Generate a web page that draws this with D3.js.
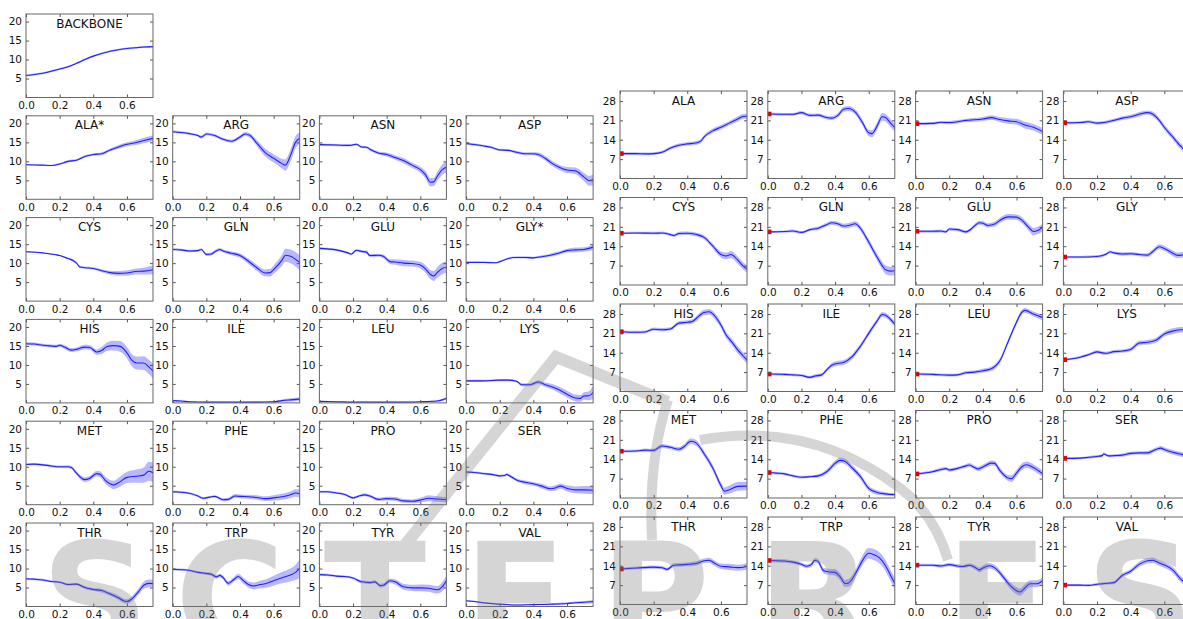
<!DOCTYPE html>
<html>
<head>
<meta charset="utf-8">
<script src="https://cdn.jsdelivr.net/npm/d3@7"></script>
<style>
  body { margin: 0; background: #fff; }
  svg { display: block; }
  text { font-family: "DejaVu Sans", sans-serif; fill: #111; }
</style>
</head>
<body>
<svg id="chart" width="1183" height="619"></svg>
<script>
// every series point: [x, mean, half width of the band]
const L_BACKBONE = [[0,5.8,.25],[0.1,6.4,.25],[0.2,7.5,.25],[0.25,8.1,.25],[0.3,9.0,.25],[0.35,10.0,.25],[0.4,10.9,.25],[0.45,11.6,.25],[0.5,12.2,.25],[0.55,12.6,.25],[0.6,12.9,.25],[0.65,13.1,.25],[0.7,13.3,.25],[0.76,13.4,.25]];
const L_ALA = [[0,9.1,.2],[0.1,9.0,.2],[0.15,8.9,.2],[0.2,9.3,.25],[0.25,10.0,.3],[0.3,10.3,.3],[0.35,11.3,.3],[0.4,11.8,.3],[0.45,12.0,.4],[0.5,13.0,.4],[0.55,13.8,.5],[0.6,14.5,.5],[0.65,14.9,.6],[0.7,15.5,.7],[0.76,16.1,.8]];
const L_ARG = [[0,17.8,.3],[0.05,17.6,.3],[0.1,17.3,.3],[0.15,16.8,.3],[0.17,16.4,.4],[0.2,17.2,.4],[0.25,16.8,.4],[0.3,15.8,.4],[0.35,15.3,.4],[0.4,16.4,.5],[0.43,17.2,.5],[0.46,16.8,.6],[0.5,14.8,.8],[0.55,12.3,1.0],[0.6,10.8,1.1],[0.65,9.4,1.3],[0.67,9.0,1.5],[0.7,11.5,1.6],[0.73,15.0,1.6],[0.76,16.2,1.5]];
const L_ASN = [[0,14.4,.3],[0.1,14.3,.3],[0.18,14.2,.3],[0.22,14.5,.3],[0.25,13.8,.3],[0.28,13.7,.3],[0.3,13.2,.4],[0.35,12.2,.4],[0.4,11.8,.5],[0.45,11.0,.6],[0.5,10.2,.7],[0.55,9.0,.7],[0.6,7.8,.8],[0.63,6.5,1.0],[0.66,4.5,1.1],[0.68,4.6,1.1],[0.7,6.0,1.2],[0.73,7.8,1.4],[0.76,8.5,1.5]];
const L_ASP = [[0,14.7,.3],[0.1,14.1,.3],[0.15,13.7,.3],[0.2,13.0,.3],[0.25,12.9,.3],[0.3,12.4,.4],[0.35,12.0,.4],[0.4,12.0,.4],[0.43,11.8,.5],[0.47,10.8,.6],[0.5,9.8,.7],[0.55,8.5,.7],[0.6,7.7,.8],[0.65,7.5,.9],[0.7,5.9,1.1],[0.73,4.9,1.3],[0.76,5.2,1.4]];
const L_CYS = [[0,13.0,.2],[0.1,12.7,.2],[0.18,12.2,.2],[0.2,12.0,.2],[0.25,11.2,.2],[0.28,10.7,.3],[0.3,10.0,.3],[0.32,9.0,.3],[0.35,8.8,.3],[0.4,8.6,.3],[0.45,8.0,.4],[0.5,7.5,.5],[0.55,7.3,.6],[0.6,7.4,.7],[0.65,7.8,.8],[0.7,7.9,.9],[0.76,8.3,1.2]];
const L_GLN = [[0,13.6,.3],[0.05,13.5,.3],[0.1,13.2,.3],[0.15,13.3,.3],[0.17,13.6,.3],[0.2,12.3,.4],[0.23,12.4,.4],[0.25,13.0,.4],[0.28,13.6,.4],[0.3,13.2,.4],[0.35,12.6,.5],[0.4,12.0,.6],[0.45,10.5,.7],[0.5,8.8,.8],[0.55,7.4,.9],[0.58,7.5,1.0],[0.6,8.3,1.1],[0.65,10.8,1.5],[0.67,12.1,1.7],[0.7,11.8,1.8],[0.76,10.0,2.0]];
const L_GLU = [[0,13.9,.3],[0.1,13.5,.3],[0.17,12.7,.3],[0.19,12.4,.3],[0.22,13.4,.3],[0.25,13.1,.3],[0.28,12.9,.4],[0.3,12.0,.4],[0.35,12.1,.4],[0.38,11.8,.5],[0.42,10.4,.6],[0.45,10.3,.7],[0.5,10.0,.8],[0.55,9.9,.8],[0.6,9.5,.9],[0.63,8.5,1.0],[0.66,7.0,1.2],[0.68,6.6,1.3],[0.7,7.5,1.4],[0.73,8.6,1.5],[0.76,9.0,1.6]];
const L_GLY = [[0,10.2,.15],[0.1,10.2,.15],[0.18,10.1,.2],[0.2,10.4,.2],[0.25,11.2,.25],[0.28,11.5,.25],[0.35,11.5,.3],[0.4,11.4,.3],[0.45,11.7,.35],[0.5,12.1,.4],[0.55,12.6,.45],[0.6,13.3,.5],[0.65,13.5,.6],[0.7,13.6,.6],[0.76,14.3,.7]];
const L_HIS = [[0,15.6,.4],[0.05,15.5,.4],[0.1,15.2,.4],[0.15,15.0,.4],[0.18,14.9,.4],[0.2,15.2,.4],[0.23,14.7,.5],[0.27,13.9,.5],[0.3,14.1,.5],[0.35,14.7,.6],[0.38,14.6,.6],[0.42,13.4,.7],[0.45,13.8,.9],[0.48,14.8,1.1],[0.52,15.1,1.3],[0.56,14.9,1.4],[0.6,13.2,1.5],[0.63,11.2,1.6],[0.66,10.5,1.7],[0.7,10.5,1.8],[0.73,9.5,1.9],[0.76,8.2,2.0]];
const L_ILE = [[0,0.6,.2],[0.05,0.5,.2],[0.1,0.3,.15],[0.2,0.2,.1],[0.3,0.2,.1],[0.4,0.2,.1],[0.5,0.2,.15],[0.6,0.3,.2],[0.65,0.6,.3],[0.7,0.8,.4],[0.76,1.0,.5]];
const L_LEU = [[0,0.4,.15],[0.1,0.3,.1],[0.2,0.2,.1],[0.3,0.2,.1],[0.5,0.2,.1],[0.6,0.3,.15],[0.7,0.5,.2],[0.73,0.8,.3],[0.76,1.3,.4]];
const L_LYS = [[0,5.8,.3],[0.1,5.8,.3],[0.2,6.0,.3],[0.25,6.0,.3],[0.3,5.7,.3],[0.33,4.8,.4],[0.38,4.8,.4],[0.43,5.5,.5],[0.47,4.8,.6],[0.5,4.4,.7],[0.55,3.5,.8],[0.6,2.3,.9],[0.65,1.3,.9],[0.68,1.2,.9],[0.7,1.8,1.0],[0.73,1.9,1.2],[0.76,3.0,2.0]];
const L_MET = [[0,10.6,.3],[0.05,10.7,.3],[0.1,10.5,.3],[0.15,10.2,.3],[0.2,10.0,.3],[0.25,10.0,.4],[0.27,9.8,.4],[0.3,8.3,.5],[0.33,7.0,.6],[0.35,6.6,.6],[0.38,7.0,.6],[0.42,8.2,.7],[0.44,8.0,.8],[0.47,6.5,.9],[0.5,5.5,1.0],[0.52,5.2,1.1],[0.55,5.8,1.3],[0.6,7.2,1.5],[0.65,7.5,1.7],[0.7,7.8,2.0],[0.73,8.8,2.5],[0.76,8.3,2.6]];
const L_PHE = [[0,3.4,.3],[0.05,3.3,.3],[0.1,3.0,.3],[0.15,2.3,.3],[0.18,1.7,.3],[0.22,2.0,.3],[0.25,2.2,.3],[0.3,1.3,.4],[0.33,1.4,.4],[0.37,2.3,.5],[0.4,2.2,.5],[0.45,2.1,.5],[0.5,1.9,.6],[0.55,1.6,.6],[0.6,1.8,.7],[0.65,2.1,.8],[0.7,2.6,.9],[0.73,3.1,1.0],[0.76,2.9,1.1]];
const L_PRO = [[0,3.4,.3],[0.05,3.4,.3],[0.1,3.1,.3],[0.15,2.7,.3],[0.2,1.8,.3],[0.23,2.2,.3],[0.27,2.6,.4],[0.3,2.3,.4],[0.35,1.4,.4],[0.4,1.6,.5],[0.45,1.5,.5],[0.5,1.0,.5],[0.55,0.9,.5],[0.6,1.2,.6],[0.65,1.7,.8],[0.7,1.5,.7],[0.76,1.3,.7]];
const L_SER = [[0,8.6,.3],[0.05,8.5,.3],[0.1,8.2,.3],[0.15,8.0,.3],[0.2,7.6,.3],[0.23,7.7,.3],[0.24,8.0,.3],[0.27,7.3,.4],[0.3,6.5,.4],[0.35,5.9,.5],[0.4,5.5,.5],[0.45,4.9,.6],[0.5,4.2,.6],[0.53,4.4,.7],[0.56,4.9,.7],[0.6,4.3,.8],[0.65,3.9,.9],[0.7,3.9,1.0],[0.76,3.8,1.0]];
const L_THR = [[0,7.3,.3],[0.05,7.2,.3],[0.1,7.0,.3],[0.15,6.6,.3],[0.2,6.4,.3],[0.25,5.8,.3],[0.3,5.9,.3],[0.33,5.4,.4],[0.35,5.0,.4],[0.4,4.5,.4],[0.45,4.2,.5],[0.5,3.3,.5],[0.55,2.3,.6],[0.58,1.5,.6],[0.6,1.3,.6],[0.63,2.0,.7],[0.67,4.0,.8],[0.7,5.6,.9],[0.73,6.1,1.0],[0.76,6.0,1.0]];
const L_TRP = [[0,9.8,.3],[0.05,9.7,.3],[0.1,9.5,.3],[0.15,9.0,.3],[0.2,8.7,.4],[0.23,8.5,.4],[0.26,7.8,.5],[0.28,8.2,.5],[0.3,7.6,.5],[0.33,6.1,.6],[0.36,7.0,.6],[0.39,7.9,.7],[0.42,6.8,.8],[0.45,5.8,.8],[0.48,5.4,.9],[0.52,5.8,1.0],[0.55,6.0,1.1],[0.6,6.8,1.3],[0.65,7.6,1.5],[0.7,8.3,1.7],[0.73,9.0,2.0],[0.76,10.2,2.6]];
const L_TYR = [[0,8.4,.3],[0.05,8.3,.3],[0.1,8.0,.3],[0.15,7.9,.3],[0.2,7.5,.3],[0.25,6.5,.4],[0.3,6.3,.4],[0.33,6.5,.4],[0.36,5.5,.5],[0.38,5.6,.5],[0.42,6.8,.6],[0.45,6.5,.7],[0.5,5.2,.8],[0.55,4.9,.8],[0.6,4.9,.9],[0.65,4.8,.9],[0.7,4.4,1.0],[0.73,5.2,1.2],[0.76,7.2,1.4]];
const L_VAL = [[0,1.5,.2],[0.05,1.3,.2],[0.1,1.0,.2],[0.2,0.6,.2],[0.3,0.4,.2],[0.4,0.5,.2],[0.5,0.6,.25],[0.6,0.8,.3],[0.65,1.0,.3],[0.7,1.1,.35],[0.76,1.3,.4]];

const R_ALA = [[0,9.0,.5],[0.1,9.0,.5],[0.15,8.9,.5],[0.2,9.0,.5],[0.25,9.5,.5],[0.3,11.0,.6],[0.35,12.0,.6],[0.4,12.5,.6],[0.45,12.8,.7],[0.48,13.5,.7],[0.5,15.0,.7],[0.55,17.2,.8],[0.6,18.5,.8],[0.65,20.0,.8],[0.7,21.5,.9],[0.73,22.4,.9],[0.76,22.5,.9]];
const R_ARG = [[0,23.3,.5],[0.1,23.2,.5],[0.15,23.2,.5],[0.2,23.8,.6],[0.25,22.8,.6],[0.3,22.9,.6],[0.35,22.0,.7],[0.38,21.8,.7],[0.42,23.0,.8],[0.45,25.0,.9],[0.48,25.3,.9],[0.52,24.0,1.0],[0.56,20.5,1.1],[0.6,16.5,1.2],[0.62,16.2,1.3],[0.65,19.0,1.3],[0.68,22.3,1.4],[0.7,22.0,1.4],[0.73,20.0,1.4],[0.76,18.0,1.4]];
const R_ASN = [[0,19.8,.5],[0.1,19.9,.5],[0.15,20.3,.5],[0.2,20.2,.6],[0.25,20.5,.6],[0.3,21.0,.6],[0.35,21.2,.7],[0.4,21.5,.7],[0.45,22.0,.8],[0.5,21.3,.9],[0.55,20.8,1.0],[0.6,20.5,1.1],[0.65,19.3,1.2],[0.7,18.5,1.2],[0.76,16.8,1.3]];
const R_ASP = [[0,20.1,.5],[0.1,20.2,.5],[0.15,20.5,.5],[0.2,20.0,.6],[0.25,20.3,.6],[0.3,21.0,.6],[0.35,21.8,.7],[0.4,22.3,.7],[0.45,23.2,.8],[0.5,23.8,.8],[0.53,23.3,.9],[0.57,21.0,.9],[0.6,18.5,1.0],[0.65,15.0,1.0],[0.7,11.5,1.1],[0.76,8.5,1.2]];
const R_CYS = [[0,18.7,.4],[0.1,18.8,.4],[0.2,18.7,.5],[0.25,18.8,.5],[0.3,18.2,.5],[0.32,17.9,.5],[0.35,18.6,.6],[0.4,18.7,.6],[0.45,18.3,.7],[0.5,17.2,.8],[0.55,14.2,.9],[0.6,11.0,1.1],[0.63,10.5,1.2],[0.66,11.0,1.3],[0.7,9.0,1.3],[0.73,7.0,1.3],[0.76,5.5,1.3]];
const R_GLN = [[0,19.2,.4],[0.1,19.3,.4],[0.15,19.5,.5],[0.2,19.0,.5],[0.25,20.0,.5],[0.3,20.5,.6],[0.35,21.8,.7],[0.38,22.5,.7],[0.42,22.0,.8],[0.45,21.3,.8],[0.48,21.5,.9],[0.52,22.1,.9],[0.55,20.5,1.0],[0.6,15.5,1.1],[0.65,10.0,1.2],[0.68,7.0,1.4],[0.7,5.5,1.5],[0.73,5.0,1.6],[0.76,5.2,1.7]];
const R_GLU = [[0,19.4,.5],[0.1,19.4,.5],[0.15,19.5,.5],[0.18,19.2,.5],[0.2,20.2,.6],[0.25,20.0,.6],[0.3,19.2,.6],[0.33,20.2,.7],[0.38,22.5,.7],[0.4,22.3,.8],[0.43,21.5,.8],[0.47,22.0,.9],[0.5,23.3,.9],[0.55,24.6,1.0],[0.6,24.5,1.0],[0.63,23.5,1.1],[0.67,21.0,1.2],[0.7,19.3,1.3],[0.73,19.8,1.3],[0.76,21.0,1.3]];
const R_GLY = [[0,10.1,.4],[0.1,10.1,.4],[0.2,10.3,.5],[0.25,11.0,.5],[0.28,12.0,.5],[0.3,11.6,.5],[0.35,11.2,.6],[0.4,11.3,.6],[0.45,11.0,.6],[0.5,10.8,.7],[0.53,12.0,.8],[0.57,13.8,.9],[0.6,13.2,.9],[0.65,11.5,1.0],[0.68,10.7,1.0],[0.7,10.8,1.0],[0.76,12.0,1.1]];
const R_HIS = [[0,21.6,.5],[0.1,21.4,.5],[0.15,21.5,.5],[0.2,22.5,.6],[0.25,22.3,.6],[0.3,22.6,.6],[0.35,24.7,.7],[0.4,25.0,.7],[0.43,25.3,.8],[0.47,27.3,.9],[0.5,28.5,1.0],[0.53,28.8,1.0],[0.56,27.5,1.1],[0.6,24.0,1.1],[0.63,20.5,1.2],[0.67,17.5,1.2],[0.7,15.0,1.3],[0.73,13.0,1.3],[0.76,11.0,1.4]];
const R_ILE = [[0,6.3,.5],[0.1,6.2,.5],[0.15,6.0,.5],[0.2,5.8,.5],[0.25,5.1,.5],[0.28,5.6,.6],[0.32,6.0,.6],[0.35,7.8,.7],[0.38,9.5,.8],[0.42,10.2,.9],[0.45,10.5,.9],[0.5,12.5,.9],[0.55,16.3,.9],[0.6,21.0,.9],[0.65,25.5,.9],[0.68,27.8,.9],[0.7,27.5,.9],[0.73,26.0,.9],[0.76,24.0,1.0]];
const R_LEU = [[0,6.3,.5],[0.1,6.2,.5],[0.2,5.9,.5],[0.25,6.0,.5],[0.3,6.8,.6],[0.35,7.0,.6],[0.4,7.5,.7],[0.45,8.2,.8],[0.48,9.5,.9],[0.5,11.0,.9],[0.55,18.0,.9],[0.6,25.0,.9],[0.63,28.5,.9],[0.65,29.3,.9],[0.7,28.0,.9],[0.76,26.6,1.0]];
const R_LYS = [[0,11.5,.4],[0.05,11.8,.4],[0.1,12.4,.5],[0.15,13.3,.5],[0.2,14.3,.6],[0.25,13.8,.6],[0.3,14.4,.6],[0.35,14.6,.6],[0.4,15.2,.7],[0.45,17.5,.8],[0.5,17.8,.8],[0.55,18.5,.9],[0.6,20.8,.9],[0.65,21.8,1.0],[0.7,22.3,1.0],[0.76,22.0,1.0]];
const R_MET = [[0,16.9,.5],[0.1,17.0,.5],[0.15,17.3,.6],[0.2,17.2,.6],[0.25,18.8,.7],[0.3,18.3,.7],[0.35,17.6,.8],[0.38,18.5,.9],[0.42,20.5,1.0],[0.45,20.0,1.0],[0.5,16.0,1.0],[0.55,11.0,1.1],[0.6,4.5,1.2],[0.62,2.5,1.3],[0.65,3.0,1.5],[0.7,4.2,1.6],[0.76,4.3,1.6]];
const R_PHE = [[0,9.2,.5],[0.05,9.0,.5],[0.1,8.7,.5],[0.15,8.0,.5],[0.2,7.5,.5],[0.25,7.7,.5],[0.3,8.0,.6],[0.35,9.5,.8],[0.4,12.5,1.0],[0.43,13.6,1.0],[0.46,13.2,1.0],[0.5,11.0,1.0],[0.55,7.8,1.0],[0.6,3.5,.9],[0.65,2.0,.8],[0.7,1.5,.6],[0.76,1.2,.5]];
const R_PRO = [[0,8.7,.5],[0.05,9.0,.5],[0.1,9.5,.5],[0.15,10.3,.6],[0.18,10.6,.6],[0.2,10.1,.6],[0.25,10.7,.6],[0.3,11.6,.7],[0.32,11.9,.7],[0.35,11.0,.7],[0.37,10.5,.8],[0.4,11.2,.8],[0.45,12.6,.9],[0.47,12.5,.9],[0.5,10.0,1.0],[0.55,7.2,1.1],[0.57,7.0,1.2],[0.6,9.0,1.2],[0.63,11.2,1.2],[0.66,12.0,1.2],[0.7,11.0,1.2],[0.76,8.5,1.2]];
const R_SER = [[0,14.3,.4],[0.1,14.4,.4],[0.15,14.7,.5],[0.2,15.0,.5],[0.23,15.3,.5],[0.24,15.9,.5],[0.27,15.2,.5],[0.3,15.3,.5],[0.35,15.5,.6],[0.4,16.1,.6],[0.45,16.3,.6],[0.5,16.3,.7],[0.55,17.5,.7],[0.58,18.0,.8],[0.6,17.5,.8],[0.65,16.5,.8],[0.7,15.8,.9],[0.76,15.0,.9]];
const R_THR = [[0,12.8,.5],[0.1,13.2,.5],[0.2,13.5,.6],[0.25,13.3,.6],[0.28,12.7,.6],[0.32,14.2,.7],[0.35,14.3,.7],[0.4,14.5,.7],[0.45,14.8,.8],[0.5,15.8,.8],[0.53,16.0,.9],[0.56,15.0,1.0],[0.6,13.8,1.0],[0.65,13.6,1.1],[0.7,13.3,1.1],[0.76,13.8,1.2]];
const R_TRP = [[0,15.9,.6],[0.1,15.7,.6],[0.15,15.3,.6],[0.2,14.5,.7],[0.23,13.8,.7],[0.26,14.5,.8],[0.28,16.0,.8],[0.3,15.5,.9],[0.33,12.3,1.0],[0.36,11.8,1.1],[0.4,11.6,1.2],[0.43,10.0,1.3],[0.46,7.6,1.3],[0.48,7.8,1.4],[0.52,11.0,1.5],[0.55,14.5,1.7],[0.6,18.5,1.9],[0.63,18.0,2.0],[0.67,16.5,2.0],[0.7,14.0,2.0],[0.73,10.5,2.0],[0.76,7.0,2.0]];
const R_TYR = [[0,14.2,.5],[0.1,14.2,.5],[0.15,13.9,.6],[0.2,14.4,.6],[0.25,13.9,.6],[0.28,13.7,.6],[0.32,14.2,.7],[0.35,13.5,.8],[0.38,12.5,.9],[0.4,13.2,.9],[0.44,14.0,1.0],[0.48,12.8,1.0],[0.52,10.0,1.1],[0.56,7.0,1.2],[0.6,5.0,1.3],[0.62,4.5,1.3],[0.65,6.0,1.3],[0.68,7.5,1.3],[0.72,7.5,1.3],[0.76,8.8,1.3]];
const R_VAL = [[0,7.0,.4],[0.1,7.0,.4],[0.15,6.9,.4],[0.2,7.3,.5],[0.25,7.6,.5],[0.3,7.9,.6],[0.35,10.5,.7],[0.4,12.0,.8],[0.45,14.5,.9],[0.5,15.8,1.0],[0.53,16.0,1.0],[0.57,15.0,1.0],[0.6,14.3,1.0],[0.65,12.5,1.1],[0.7,9.0,1.1],[0.76,7.0,1.1]];

const leftRows = [
  [["BACKBONE", L_BACKBONE]],
  [["ALA*", L_ALA], ["ARG", L_ARG], ["ASN", L_ASN], ["ASP", L_ASP]],
  [["CYS", L_CYS], ["GLN", L_GLN], ["GLU", L_GLU], ["GLY*", L_GLY]],
  [["HIS", L_HIS], ["ILE", L_ILE], ["LEU", L_LEU], ["LYS", L_LYS]],
  [["MET", L_MET], ["PHE", L_PHE], ["PRO", L_PRO], ["SER", L_SER]],
  [["THR", L_THR], ["TRP", L_TRP], ["TYR", L_TYR], ["VAL", L_VAL]]
];
const rightRows = [
  [["ALA", R_ALA], ["ARG", R_ARG], ["ASN", R_ASN], ["ASP", R_ASP]],
  [["CYS", R_CYS], ["GLN", R_GLN], ["GLU", R_GLU], ["GLY", R_GLY]],
  [["HIS", R_HIS], ["ILE", R_ILE], ["LEU", R_LEU], ["LYS", R_LYS]],
  [["MET", R_MET], ["PHE", R_PHE], ["PRO", R_PRO], ["SER", R_SER]],
  [["THR", R_THR], ["TRP", R_TRP], ["TYR", R_TYR], ["VAL", R_VAL]]
];

const xTicks = [0, 0.2, 0.4, 0.6];
const leftYTicks = [5, 10, 15, 20];
const rightYTicks = [7, 14, 21, 28];

// watermark letters of the publisher logo (the last S falls off the page)
const wmLetters = ["S", "C", "T", "E", "P", "R", "E", "S"];
const wmCenters = [95, 230, 375, 515, 655, 815, 997, 1140];

const svg = d3.select("#chart");

const grids = [
  {rows: leftRows, x0: 26, y0: 14, dx: 146.7, dy: 101.8, w: 127, h: 83.5, ymax: 22, yTicks: leftYTicks, marker: false},
  {rows: rightRows, x0: 620, y0: 91, dx: 147.8, dy: 106.5, w: 127, h: 87.5, ymax: 31.6, yTicks: rightYTicks, marker: true}
];

let clipId = 0;
grids.forEach(gr => {
  gr.rows.forEach((row, ri) => {
    row.forEach(([name, pts], ci) => {
      const left = gr.x0 + ci * gr.dx, top = gr.y0 + ri * gr.dy;
      const x = d3.scaleLinear().domain([0, 0.755]).range([0, gr.w]);
      const y = d3.scaleLinear().domain([0, gr.ymax]).range([gr.h, 0]);
      const g = svg.append("g").attr("transform", `translate(${left},${top})`);

      const id = "clip" + (clipId++);
      g.append("clipPath").attr("id", id).append("rect").attr("width", gr.w).attr("height", gr.h);
      const plot = g.append("g").attr("clip-path", `url(#${id})`);

      const area = d3.area().curve(d3.curveMonotoneX)
        .x(d => x(d[0])).y0(d => y(d[1] - d[2])).y1(d => y(d[1] + d[2]));
      const line = d3.line().curve(d3.curveMonotoneX).x(d => x(d[0])).y(d => y(d[1]));

      plot.append("path").attr("d", area(pts)).attr("fill", "#0000ff").attr("fill-opacity", 0.28);
      plot.append("path").attr("d", line(pts)).attr("fill", "none").attr("stroke", "#2020ff").attr("stroke-width", 1.1);

      if (gr.marker) {
        plot.append("rect")
          .attr("x", x(0.008) - 2.3).attr("y", y(pts[0][1]) - 2.3)
          .attr("width", 4.6).attr("height", 4.6).attr("fill", "#e00000");
      }

      const fmt = d3.format(".1f");
      g.append("g").attr("transform", `translate(0,${gr.h})`)
        .call(d3.axisBottom(x).tickValues(xTicks).tickFormat(fmt).tickSize(-3).tickPadding(4));
      g.append("g").call(d3.axisTop(x).tickValues(xTicks).tickFormat("").tickSize(-3));
      g.append("g").call(d3.axisLeft(y).tickValues(gr.yTicks).tickSize(-3).tickPadding(4));
      g.append("g").attr("transform", `translate(${gr.w},0)`)
        .call(d3.axisRight(y).tickValues(gr.yTicks).tickFormat("").tickSize(-3));
      g.selectAll(".domain").remove();
      g.selectAll(".tick line").attr("stroke", "#555");
      g.selectAll(".tick text").attr("font-size", 10.5).attr("font-family", "DejaVu Sans").attr("fill", "#111");

      g.append("rect").attr("width", gr.w).attr("height", gr.h)
        .attr("fill", "none").attr("stroke", "#666").attr("stroke-width", 1);

      g.append("text").attr("x", gr.w / 2).attr("y", 13.5)
        .attr("text-anchor", "middle").attr("font-size", 12).text(name);
    });
  });
});

// faint publisher watermark over the figure
const wm = svg.append("g").attr("opacity", 0.3).style("pointer-events", "none");
wm.selectAll("text").data(wmLetters).join("text")
  .attr("x", (d, i) => wmCenters[i]).attr("y", 650)
  .attr("text-anchor", "middle").attr("font-size", 150).attr("font-weight", "bold")
  .style("fill", "#777").text(d => d);
wm.append("path").attr("d", "M405,545 L556,357 L668,402")
  .attr("fill", "none").attr("stroke", "#777").attr("stroke-width", 12);
wm.append("path").attr("d", "M668,400 Q648,460 652,540")
  .attr("fill", "none").attr("stroke", "#777").attr("stroke-width", 10);
wm.append("path").attr("d", "M700,440 Q810,420 900,488 Q935,515 948,560")
  .attr("fill", "none").attr("stroke", "#777").attr("stroke-width", 10);
</script>
</body>
</html>
